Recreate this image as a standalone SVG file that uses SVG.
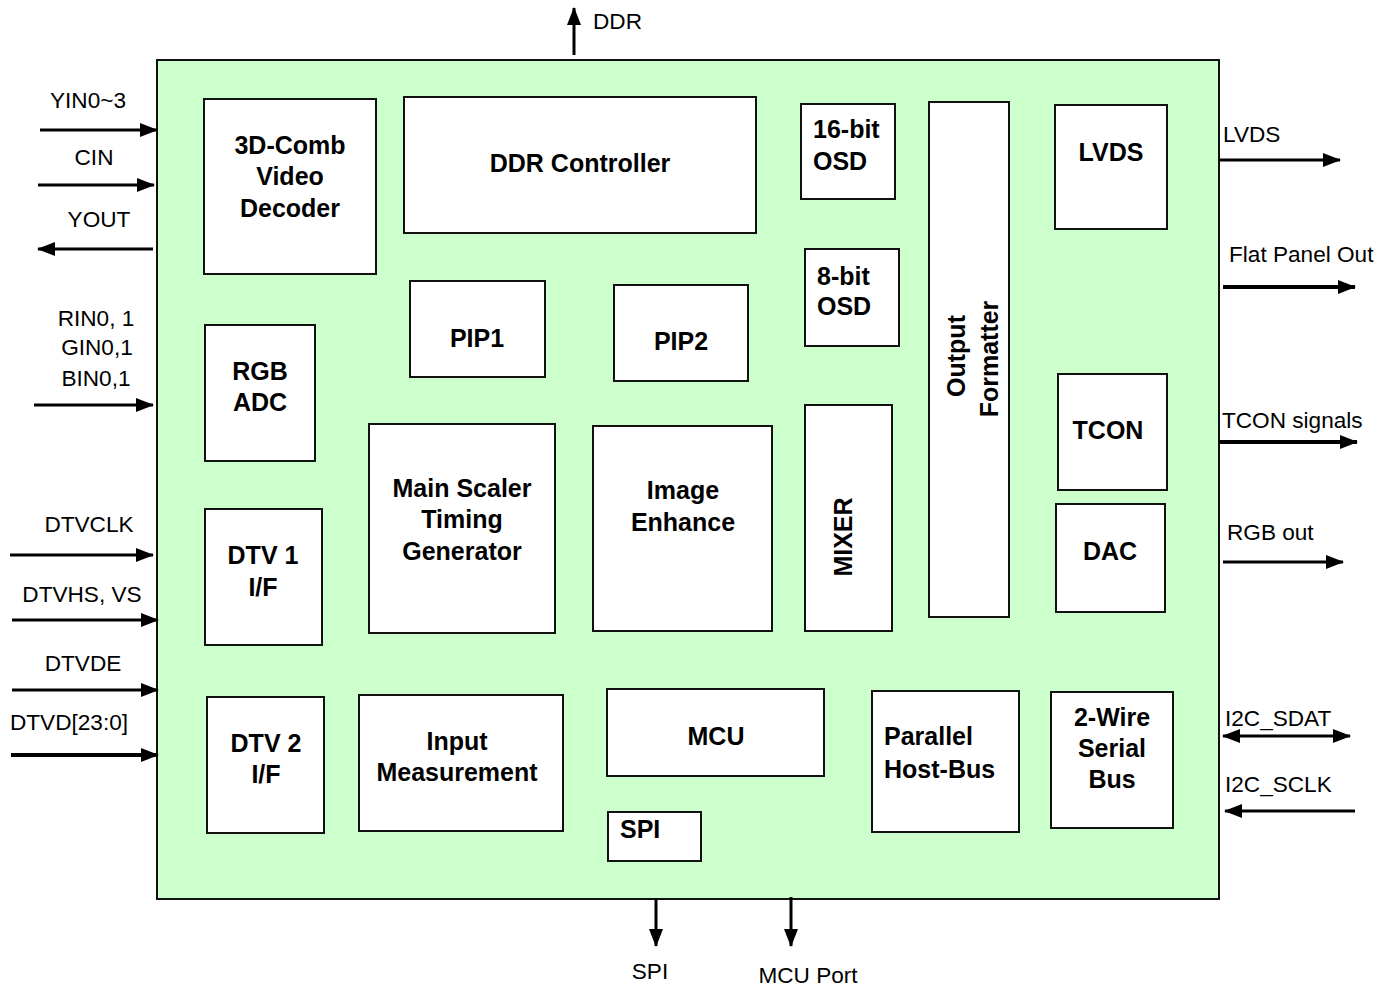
<svg xmlns="http://www.w3.org/2000/svg" width="1392" height="988" viewBox="0 0 1392 988">
<defs>
<marker id="ah" markerUnits="userSpaceOnUse" markerWidth="18" markerHeight="14" refX="17" refY="7" orient="auto-start-reverse" viewBox="0 0 18 14">
<path d="M0,0 L18,7 L0,14 Z" fill="#000"/>
</marker>
</defs>
<style>
.blk{fill:#fff;stroke:#111;stroke-width:2}
.bt{font-family:"Liberation Sans",Arial,sans-serif;font-weight:bold;font-size:25px;fill:#000}
.m{text-anchor:middle}
.lb{font-family:"Liberation Sans",Arial,sans-serif;font-size:22.6px;fill:#000}
.ar{stroke:#000;stroke-width:3;fill:none}
.ak{stroke:#000;stroke-width:4;fill:none}
</style>
<rect width="1392" height="988" fill="#fff"/>
<g id="chip"><rect x="157" y="60" width="1062" height="839" fill="#ccffcc" stroke="#111" stroke-width="2"/></g>

<g id="comb"><rect class="blk" x="204" y="99" width="172" height="175"/>
<text class="bt m" x="290" y="154">3D-Comb</text><text class="bt m" x="290" y="185">Video</text><text class="bt m" x="290" y="217">Decoder</text></g>
<g id="ddrc"><rect class="blk" x="404" y="97" width="352" height="136"/><text class="bt m" x="580" y="172">DDR Controller</text></g>
<g id="osd16"><rect class="blk" x="801" y="104" width="94" height="95"/><text class="bt" x="813" y="138">16-bit</text><text class="bt" x="813" y="170">OSD</text></g>
<g id="osd8"><rect class="blk" x="805" y="249" width="94" height="97"/><text class="bt" x="817" y="285">8-bit</text><text class="bt" x="817" y="315">OSD</text></g>
<g id="outfmt"><rect class="blk" x="929" y="102" width="80" height="515"/>
<text class="bt m" transform="translate(965,356) rotate(-90)">Output</text><text class="bt m" transform="translate(998,359) rotate(-90)">Formatter</text></g>
<g id="lvds"><rect class="blk" x="1055" y="105" width="112" height="124"/><text class="bt m" x="1111" y="161">LVDS</text></g>
<g id="pip1"><rect class="blk" x="410" y="281" width="135" height="96"/><text class="bt m" x="477" y="347">PIP1</text></g>
<g id="pip2"><rect class="blk" x="614" y="285" width="134" height="96"/><text class="bt m" x="681" y="350">PIP2</text></g>
<g id="rgbadc"><rect class="blk" x="205" y="325" width="110" height="136"/><text class="bt m" x="260" y="380">RGB</text><text class="bt m" x="260" y="411">ADC</text></g>
<g id="scaler"><rect class="blk" x="369" y="424" width="186" height="209"/>
<text class="bt m" x="462" y="497">Main Scaler</text><text class="bt m" x="462" y="528">Timing</text><text class="bt m" x="462" y="560">Generator</text></g>
<g id="enh"><rect class="blk" x="593" y="426" width="179" height="205"/><text class="bt m" x="683" y="499">Image</text><text class="bt m" x="683" y="531">Enhance</text></g>
<g id="mixer"><rect class="blk" x="805" y="405" width="87" height="226"/><text class="bt m" transform="translate(852,537) rotate(-90)">MIXER</text></g>
<g id="tcon"><rect class="blk" x="1058" y="374" width="109" height="116"/><text class="bt m" x="1108" y="439">TCON</text></g>
<g id="dac"><rect class="blk" x="1056" y="504" width="109" height="108"/><text class="bt m" x="1110" y="560">DAC</text></g>
<g id="dtv1"><rect class="blk" x="205" y="509" width="117" height="136"/><text class="bt m" x="263" y="564">DTV 1</text><text class="bt m" x="263" y="596">I/F</text></g>
<g id="dtv2"><rect class="blk" x="207" y="697" width="117" height="136"/><text class="bt m" x="266" y="752">DTV 2</text><text class="bt m" x="266" y="783">I/F</text></g>
<g id="inmeas"><rect class="blk" x="359" y="695" width="204" height="136"/><text class="bt m" x="457" y="750">Input</text><text class="bt m" x="457" y="781">Measurement</text></g>
<g id="mcu"><rect class="blk" x="607" y="689" width="217" height="87"/><text class="bt m" x="716" y="745">MCU</text></g>
<g id="spi"><rect class="blk" x="608" y="812" width="93" height="49"/><text class="bt" x="620" y="838">SPI</text></g>
<g id="phb"><rect class="blk" x="872" y="691" width="147" height="141"/><text class="bt" x="884" y="745">Parallel</text><text class="bt" x="884" y="778">Host-Bus</text></g>
<g id="twowire"><rect class="blk" x="1051" y="692" width="122" height="136"/>
<text class="bt m" x="1112" y="726">2-Wire</text><text class="bt m" x="1112" y="757">Serial</text><text class="bt m" x="1112" y="788">Bus</text></g>

<g id="connectors">
<line class="ar" x1="40" y1="130" x2="157" y2="130" marker-end="url(#ah)"/>
<line class="ar" x1="38" y1="185" x2="154" y2="185" marker-end="url(#ah)"/>
<line class="ar" x1="153" y1="249" x2="38" y2="249" marker-end="url(#ah)"/>
<line class="ar" x1="34" y1="405" x2="153" y2="405" marker-end="url(#ah)"/>
<line class="ar" x1="10" y1="555" x2="153" y2="555" marker-end="url(#ah)"/>
<line class="ar" x1="12" y1="620" x2="158" y2="620" marker-end="url(#ah)"/>
<line class="ar" x1="12" y1="690" x2="158" y2="690" marker-end="url(#ah)"/>
<line class="ak" x1="11" y1="755" x2="158" y2="755" marker-end="url(#ah)"/>
<line class="ar" x1="1219" y1="160" x2="1340" y2="160" marker-end="url(#ah)"/>
<line class="ak" x1="1223" y1="287" x2="1355" y2="287" marker-end="url(#ah)"/>
<line class="ak" x1="1219" y1="442" x2="1357" y2="442" marker-end="url(#ah)"/>
<line class="ar" x1="1223" y1="562" x2="1343" y2="562" marker-end="url(#ah)"/>
<line class="ar" x1="1223" y1="736" x2="1350" y2="736" marker-start="url(#ah)" marker-end="url(#ah)"/>
<line class="ar" x1="1355" y1="811" x2="1225" y2="811" marker-end="url(#ah)"/>
<line class="ar" x1="574" y1="55" x2="574" y2="8" marker-end="url(#ah)"/>
<line class="ar" x1="656" y1="899" x2="656" y2="946" marker-end="url(#ah)"/>
<line class="ar" x1="791" y1="897" x2="791" y2="946" marker-end="url(#ah)"/>
</g>

<g id="labels">
<text class="lb m" x="88" y="108">YIN0~3</text>
<text class="lb m" x="94" y="165">CIN</text>
<text class="lb m" x="99" y="227">YOUT</text>
<text class="lb m" x="96" y="326">RIN0, 1</text>
<text class="lb m" x="97" y="355">GIN0,1</text>
<text class="lb m" x="96" y="386">BIN0,1</text>
<text class="lb m" x="89" y="532">DTVCLK</text>
<text class="lb m" x="82" y="602">DTVHS, VS</text>
<text class="lb m" x="83" y="671">DTVDE</text>
<text class="lb" x="10" y="730">DTVD[23:0]</text>
<text class="lb" x="1223" y="142">LVDS</text>
<text class="lb" x="1229" y="262">Flat Panel Out</text>
<text class="lb" x="1222" y="428">TCON signals</text>
<text class="lb" x="1227" y="540">RGB out</text>
<text class="lb" x="1225" y="726">I2C_SDAT</text>
<text class="lb" x="1225" y="792">I2C_SCLK</text>
<text class="lb" x="593" y="29">DDR</text>
<text class="lb m" x="650" y="979">SPI</text>
<text class="lb m" x="808" y="983">MCU Port</text>
</g>
</svg>
